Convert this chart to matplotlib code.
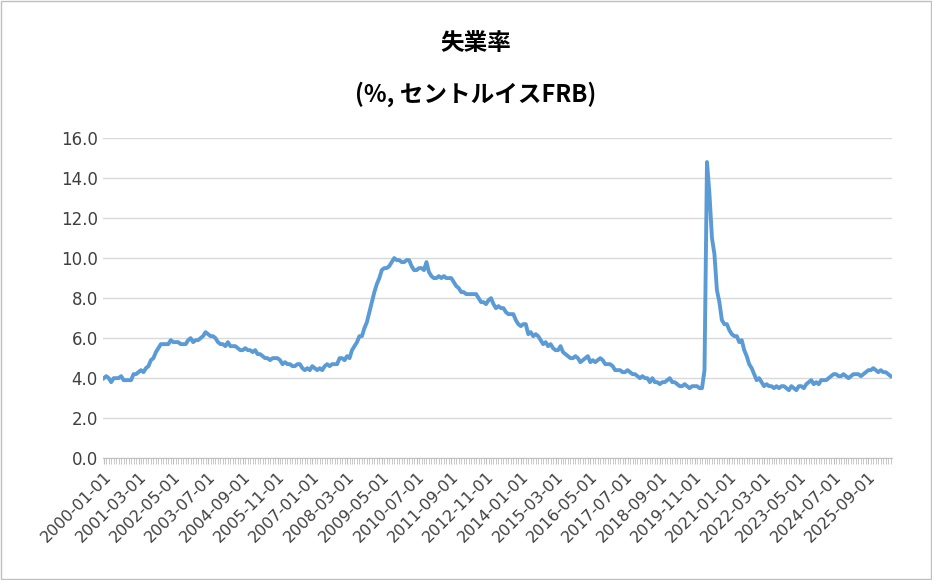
import matplotlib
matplotlib.use("Agg")
import matplotlib.pyplot as plt
import numpy as np
import pandas as pd

plt.rcParams['font.family'] = ['Noto Sans CJK JP', 'DejaVu Sans']

values = [
4.0,4.1,4.0,3.8,4.0,4.0,4.0,4.1,3.9,3.9,3.9,3.9,
4.2,4.2,4.3,4.4,4.3,4.5,4.6,4.9,5.0,5.3,5.5,5.7,
5.7,5.7,5.7,5.9,5.8,5.8,5.8,5.7,5.7,5.7,5.9,6.0,
5.8,5.9,5.9,6.0,6.1,6.3,6.2,6.1,6.1,6.0,5.8,5.7,
5.7,5.6,5.8,5.6,5.6,5.6,5.5,5.4,5.4,5.5,5.4,5.4,
5.3,5.4,5.2,5.2,5.1,5.0,5.0,4.9,5.0,5.0,5.0,4.9,
4.7,4.8,4.7,4.7,4.6,4.6,4.7,4.7,4.5,4.4,4.5,4.4,
4.6,4.5,4.4,4.5,4.4,4.6,4.7,4.6,4.7,4.7,4.7,5.0,
5.0,4.9,5.1,5.0,5.4,5.6,5.8,6.1,6.1,6.5,6.8,7.3,
7.8,8.3,8.7,9.0,9.4,9.5,9.5,9.6,9.8,10.0,9.9,9.9,
9.8,9.8,9.9,9.9,9.6,9.4,9.4,9.5,9.5,9.4,9.8,9.3,
9.1,9.0,9.0,9.1,9.0,9.1,9.0,9.0,9.0,8.8,8.6,8.5,
8.3,8.3,8.2,8.2,8.2,8.2,8.2,8.0,7.8,7.8,7.7,7.9,
8.0,7.7,7.5,7.6,7.5,7.5,7.3,7.2,7.2,7.2,6.9,6.7,
6.6,6.7,6.7,6.2,6.3,6.1,6.2,6.1,5.9,5.7,5.8,5.6,
5.7,5.5,5.4,5.4,5.6,5.3,5.2,5.1,5.0,5.0,5.1,5.0,
4.8,4.9,5.0,5.1,4.8,4.9,4.8,4.9,5.0,4.9,4.7,4.7,
4.7,4.6,4.4,4.4,4.4,4.3,4.3,4.4,4.3,4.2,4.2,4.1,
4.0,4.1,4.0,4.0,3.8,4.0,3.8,3.8,3.7,3.8,3.8,3.9,
4.0,3.8,3.8,3.7,3.6,3.6,3.7,3.6,3.5,3.6,3.6,3.6,
3.5,3.5,4.4,14.8,13.2,11.0,10.2,8.4,7.8,6.9,6.7,6.7,
6.4,6.2,6.1,6.1,5.8,5.9,5.4,5.1,4.7,4.5,4.2,3.9,
4.0,3.8,3.6,3.7,3.6,3.6,3.5,3.6,3.5,3.6,3.6,3.5,
3.4,3.6,3.5,3.4,3.6,3.6,3.5,3.7,3.8,3.9,3.7,3.8,
3.7,3.9,3.9,3.9,4.0,4.1,4.2,4.2,4.1,4.1,4.2,4.1,
4.0,4.1,4.2,4.2,4.2,4.1,4.2,4.3,4.4,4.4,4.5,4.4,
4.3,4.4,4.3,4.3,4.2,4.1,
]
dates = pd.date_range("2000-01-01", periods=len(values), freq="MS")
labels = [d.strftime("%Y-%m-%d") for d in dates]

fig = plt.figure(figsize=(9.32, 5.80), dpi=100)
ax = fig.add_axes([0.11, 0.21, 0.847, 0.552])
x = np.arange(len(values))
ax.plot(x, values, color='#5B9BD5', lw=2.8, solid_joinstyle='round')
ax.set_xlim(-0.5, len(values) - 0.5)
ax.set_ylim(0, 16)
yt = np.arange(0, 16.1, 2)
ax.set_yticks(yt)
ax.set_yticklabels([f"{v:.1f}" for v in yt], fontsize=12, color='#404040', family='DejaVu Sans')
ax.set_xticks(x[::14])
ax.set_xticklabels(labels[::14], rotation=45, ha='right', rotation_mode='anchor', fontsize=11.5, color='#404040', family='DejaVu Sans')
ax.set_xticks(x, minor=True)
ax.tick_params(axis='x', which='both', length=4, color='#BFBFBF')
ax.tick_params(axis='y', length=0)
ax.grid(axis='y', color='#D9D9D9', lw=1)
ax.set_axisbelow(True)
for s in ['top', 'right', 'left']:
    ax.spines[s].set_visible(False)
ax.spines['bottom'].set_color('#BFBFBF')
fig.text(0.51, 0.925, "失業率", ha='center', va='center', fontsize=17, fontweight='bold', color='black')
fig.text(0.51, 0.838, "(%, セントルイスFRB)", ha='center', va='center', fontsize=17, fontweight='bold', color='black')
fig.patches.append(plt.Rectangle((0.001, 0.001), 0.998, 0.998, transform=fig.transFigure, fill=False, edgecolor='#BFBFBF', lw=1))
fig.savefig("out.png", dpi=100)
